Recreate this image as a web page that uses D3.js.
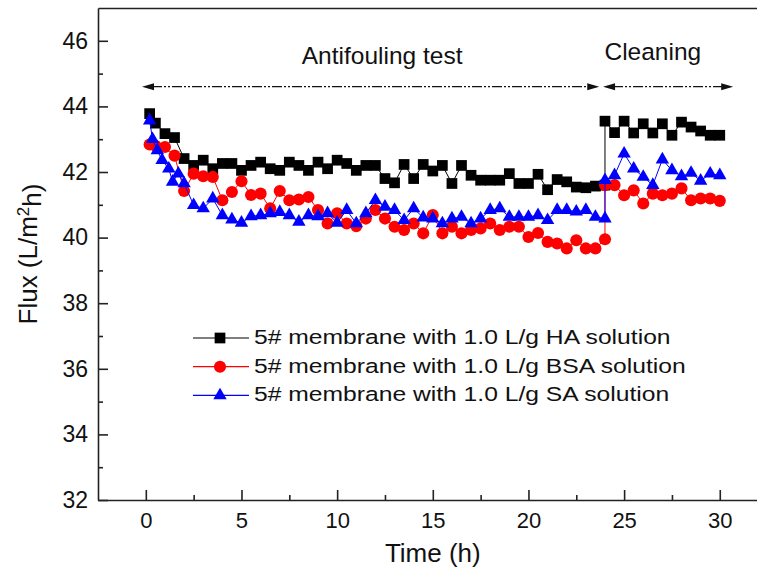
<!DOCTYPE html>
<html>
<head>
<meta charset="utf-8">
<script src="https://cdn.jsdelivr.net/npm/d3@7"></script>
<style>
  body { margin: 0; background: #fff; }
  svg { display: block; font-family: "Liberation Sans", Arial, sans-serif; }
  .axis path, .axis line { stroke: #222; stroke-width: 1.6; }
  .axis text { fill: #111; }
</style>
</head>
<body>
<svg id="chart" width="757" height="574"></svg>
<script>
// Data
const timeHA = [0.2, 0.5, 1, 1.5, 2, 2.5, 3, 3.5, 4, 4.5, 5, 5.5, 6, 6.5, 7, 7.5, 8, 8.5, 9, 9.5, 10, 10.5, 11, 11.5,
  12, 12.5, 13, 13.5, 14, 14.5, 15, 15.5, 16, 16.5, 17, 17.5, 18, 18.5, 19, 19.5, 20, 20.5, 21, 21.5, 22, 22.5, 23, 23.5, 24,
  24, 24.5, 25, 25.5, 26, 26.5, 27, 27.5, 28, 28.5, 29, 29.5, 30];
const fluxHA = [43.78, 43.49, 43.17, 43.05, 42.41, 42.2, 42.36, 42.1, 42.26, 42.26, 42.05, 42.2, 42.3, 42.1, 42.05, 42.3, 42.2, 42.05, 42.3, 42.1, 42.36, 42.26, 42.05, 42.2,
  42.2, 41.8, 41.67, 42.23, 41.8, 42.23, 42.03, 42.2, 41.65, 42.2, 41.9, 41.75, 41.75, 41.75, 41.95, 41.65, 41.65, 41.93, 41.46, 41.77, 41.7, 41.54, 41.52, 41.57, 41.6,
  43.55, 43.2, 43.55, 43.19, 43.47, 43.19, 43.47, 43.12, 43.52, 43.37, 43.25, 43.12, 43.12];

const timeBSA = [0.2, 0.5, 1, 1.5, 2, 2.5, 3, 3.5, 4, 4.5, 5, 5.5, 6, 6.5, 7, 7.5, 8, 8.5, 9, 9.5, 10, 10.5, 11, 11.5,
  12, 12.5, 13, 13.5, 14, 14.5, 15, 15.5, 16, 16.5, 17, 17.5, 18, 18.5, 19, 19.5, 20, 20.5, 21, 21.5, 22, 22.5, 23, 23.5, 24,
  24, 24.5, 25, 25.5, 26, 26.5, 27, 27.5, 28, 28.5, 29, 29.5, 30];
const fluxBSA = [42.84, 42.8, 42.76, 42.5, 41.42, 41.95, 41.87, 41.85, 41.14, 41.39, 41.72, 41.3, 41.34, 40.89, 41.42, 41.14, 41.16, 41.24, 40.84, 40.43, 40.74, 40.43, 40.35, 40.58,
  40.84, 40.58, 40.33, 40.23, 40.43, 40.13, 40.69, 40.13, 40.33, 40.13, 40.23, 40.28, 40.43, 40.23, 40.33, 40.33, 40.02, 40.14, 39.87, 39.82, 39.67, 39.92, 39.67, 39.67, 39.95,
  41.6, 41.6, 41.29, 41.44, 41.04, 41.34, 41.29, 41.34, 41.5, 41.14, 41.19, 41.19, 41.12];

const timeSA = [0.2, 0.35, 0.6, 0.85, 1.2, 1.4, 1.7, 2, 2.5, 3, 3.5, 4, 4.5, 5, 5.5, 6, 6.5, 7, 7.5, 8, 8.5, 9, 9.5, 10, 10.5, 11, 11.5,
  12, 12.5, 13, 13.5, 14, 14.5, 15, 15.5, 16, 16.5, 17, 17.5, 18, 18.5, 19, 19.5, 20, 20.5, 21, 21.5, 22, 22.5, 23, 23.5, 24,
  24, 24.5, 25, 25.5, 26, 26.5, 27, 27.5, 28, 28.5, 29, 29.5, 30];
const fluxSA = [43.57, 43.0, 42.66, 42.36, 42.1, 41.7, 41.95, 41.65, 40.99, 40.89, 41.19, 40.68, 40.55, 40.45, 40.65, 40.68, 40.74, 40.78, 40.68, 40.48, 40.68, 40.65, 40.74, 40.45, 40.84, 40.43, 40.74,
  41.14, 40.94, 40.84, 40.53, 40.89, 40.61, 40.58, 40.43, 40.58, 40.63, 40.43, 40.58, 40.84, 40.89, 40.63, 40.63, 40.63, 40.68, 40.53, 40.84, 40.84, 40.79, 40.84, 40.63, 40.58,
  41.75, 41.9, 42.56, 42.1, 41.85, 41.6, 42.38, 42.05, 41.87, 41.97, 41.73, 41.95, 41.9];

const seriesNames = ["5# membrane with 1.0 L/g HA solution", "5# membrane with 1.0 L/g BSA solution", "5# membrane with 1.0 L/g SA solution"];
const xTicks = [0, 5, 10, 15, 20, 25, 30];
const xMinor = [2.5, 7.5, 12.5, 17.5, 22.5, 27.5];
const yTicks = [32, 34, 36, 38, 40, 42, 44, 46];
const yMinor = [33, 35, 37, 39, 41, 43, 45];

const series = [
  { name: seriesNames[0], t: timeHA, v: fluxHA, color: "#000000", symbol: d3.symbolSquare, size: 115 },
  { name: seriesNames[1], t: timeBSA, v: fluxBSA, color: "#ff0000", symbol: d3.symbolCircle, size: 115 },
  { name: seriesNames[2], t: timeSA, v: fluxSA, color: "#0000ff", symbol: d3.symbolTriangle, size: 78 }
];

const svg = d3.select("#chart");

// Scales
const x = d3.scaleLinear().domain([-2.5, 32.5]).range([98, 767.6]);
const y = d3.scaleLinear().domain([32, 47]).range([500, 8]);

// Axes
svg.append("g")
  .attr("class", "axis")
  .attr("transform", "translate(0,500)")
  .call(d3.axisBottom(x).tickValues(xTicks).tickSize(-10).tickSizeOuter(0).tickPadding(12))
  .call(g => g.selectAll("text").style("font-size", "22px"));

svg.append("g")
  .attr("class", "axis")
  .attr("transform", "translate(0,500)")
  .call(d3.axisBottom(x).tickValues(xMinor).tickSize(-5).tickSizeOuter(0).tickFormat(""))
  .call(g => g.select(".domain").remove());

svg.append("g")
  .attr("class", "axis")
  .attr("transform", "translate(98,0)")
  .call(d3.axisLeft(y).tickValues(yTicks).tickSize(-10).tickSizeOuter(0).tickPadding(10))
  .call(g => g.selectAll("text").style("font-size", "23px"));

svg.append("g")
  .attr("class", "axis")
  .attr("transform", "translate(98,0)")
  .call(d3.axisLeft(y).tickValues(yMinor).tickSize(-5).tickSizeOuter(0).tickFormat(""))
  .call(g => g.select(".domain").remove());

// top spine
svg.append("g")
  .attr("class", "axis")
  .attr("transform", "translate(0,8)")
  .call(d3.axisTop(x).tickValues([]).tickSizeOuter(0));

// Axis titles
svg.append("text")
  .attr("x", (x.range()[0] + x.range()[1]) / 2)
  .attr("y", 562)
  .attr("text-anchor", "middle")
  .style("font-size", "26px")
  .style("fill", "#111")
  .text("Time (h)");

const yTitle = svg.append("text")
  .attr("transform", "translate(37," + ((y(32) + y(47)) / 2) + ") rotate(-90)")
  .attr("text-anchor", "middle")
  .style("font-size", "26px")
  .style("fill", "#111");
yTitle.append("tspan").text("Flux (L/m");
yTitle.append("tspan").attr("dy", "-0.45em").style("font-size", "17px").text("2");
yTitle.append("tspan").attr("dy", "0.45em").text("h)");

// Annotation arrows
const arrowY = y(44.6);
const arrows = [[-0.2, 23.7], [23.9, 30.7]];
arrows.forEach(a => {
  const x0 = x(a[0]), x1 = x(a[1]);
  svg.append("line")
    .attr("x1", x0 + 10).attr("x2", x1 - 10)
    .attr("y1", arrowY).attr("y2", arrowY)
    .attr("stroke", "#111")
    .attr("stroke-width", 1.3)
    .attr("stroke-dasharray", "10,2,2,2,2,2");
  svg.append("path")
    .attr("d", `M${x0},${arrowY}L${x0 + 12},${arrowY - 3.5}L${x0 + 12},${arrowY + 3.5}Z`)
    .attr("fill", "#111");
  svg.append("path")
    .attr("d", `M${x1},${arrowY}L${x1 - 12},${arrowY - 3.5}L${x1 - 12},${arrowY + 3.5}Z`)
    .attr("fill", "#111");
});

svg.append("text")
  .attr("x", x(12.35)).attr("y", 64)
  .attr("text-anchor", "middle")
  .style("font-size", "24.5px")
  .style("fill", "#111")
  .text("Antifouling test");

svg.append("text")
  .attr("x", x(26.5)).attr("y", 60)
  .attr("text-anchor", "middle")
  .style("font-size", "24.5px")
  .style("fill", "#111")
  .text("Cleaning");

// Lines + markers
const line = d3.line()
  .x(d => x(d[0]))
  .y(d => y(d[1]));

series.forEach(s => {
  const pts = s.t.map((t, i) => [t, s.v[i]]);
  svg.append("path")
    .datum(pts)
    .attr("d", line)
    .attr("fill", "none")
    .attr("stroke", s.color)
    .attr("stroke-width", 1);
  svg.append("g")
    .selectAll("path")
    .data(pts)
    .join("path")
    .attr("transform", d => `translate(${x(d[0])},${y(d[1])})`)
    .attr("d", d3.symbol(s.symbol, s.size))
    .attr("fill", s.color);
});

// Legend
const legend = svg.append("g").attr("transform", "translate(193,338)");
series.forEach((s, i) => {
  const row = legend.append("g").attr("transform", `translate(0,${i * 28.7})`);
  row.append("line")
    .attr("x1", 0).attr("x2", 56)
    .attr("stroke", s.color)
    .attr("stroke-width", 1.2);
  row.append("path")
    .attr("transform", "translate(27,0)")
    .attr("d", d3.symbol(s.symbol, s.size))
    .attr("fill", s.color);
  row.append("text")
    .attr("transform", "translate(61,6) scale(1.265,1)")
    .style("font-size", "19.5px")
    .style("fill", "#111")
    .text(s.name);
});
</script>
</body>
</html>
